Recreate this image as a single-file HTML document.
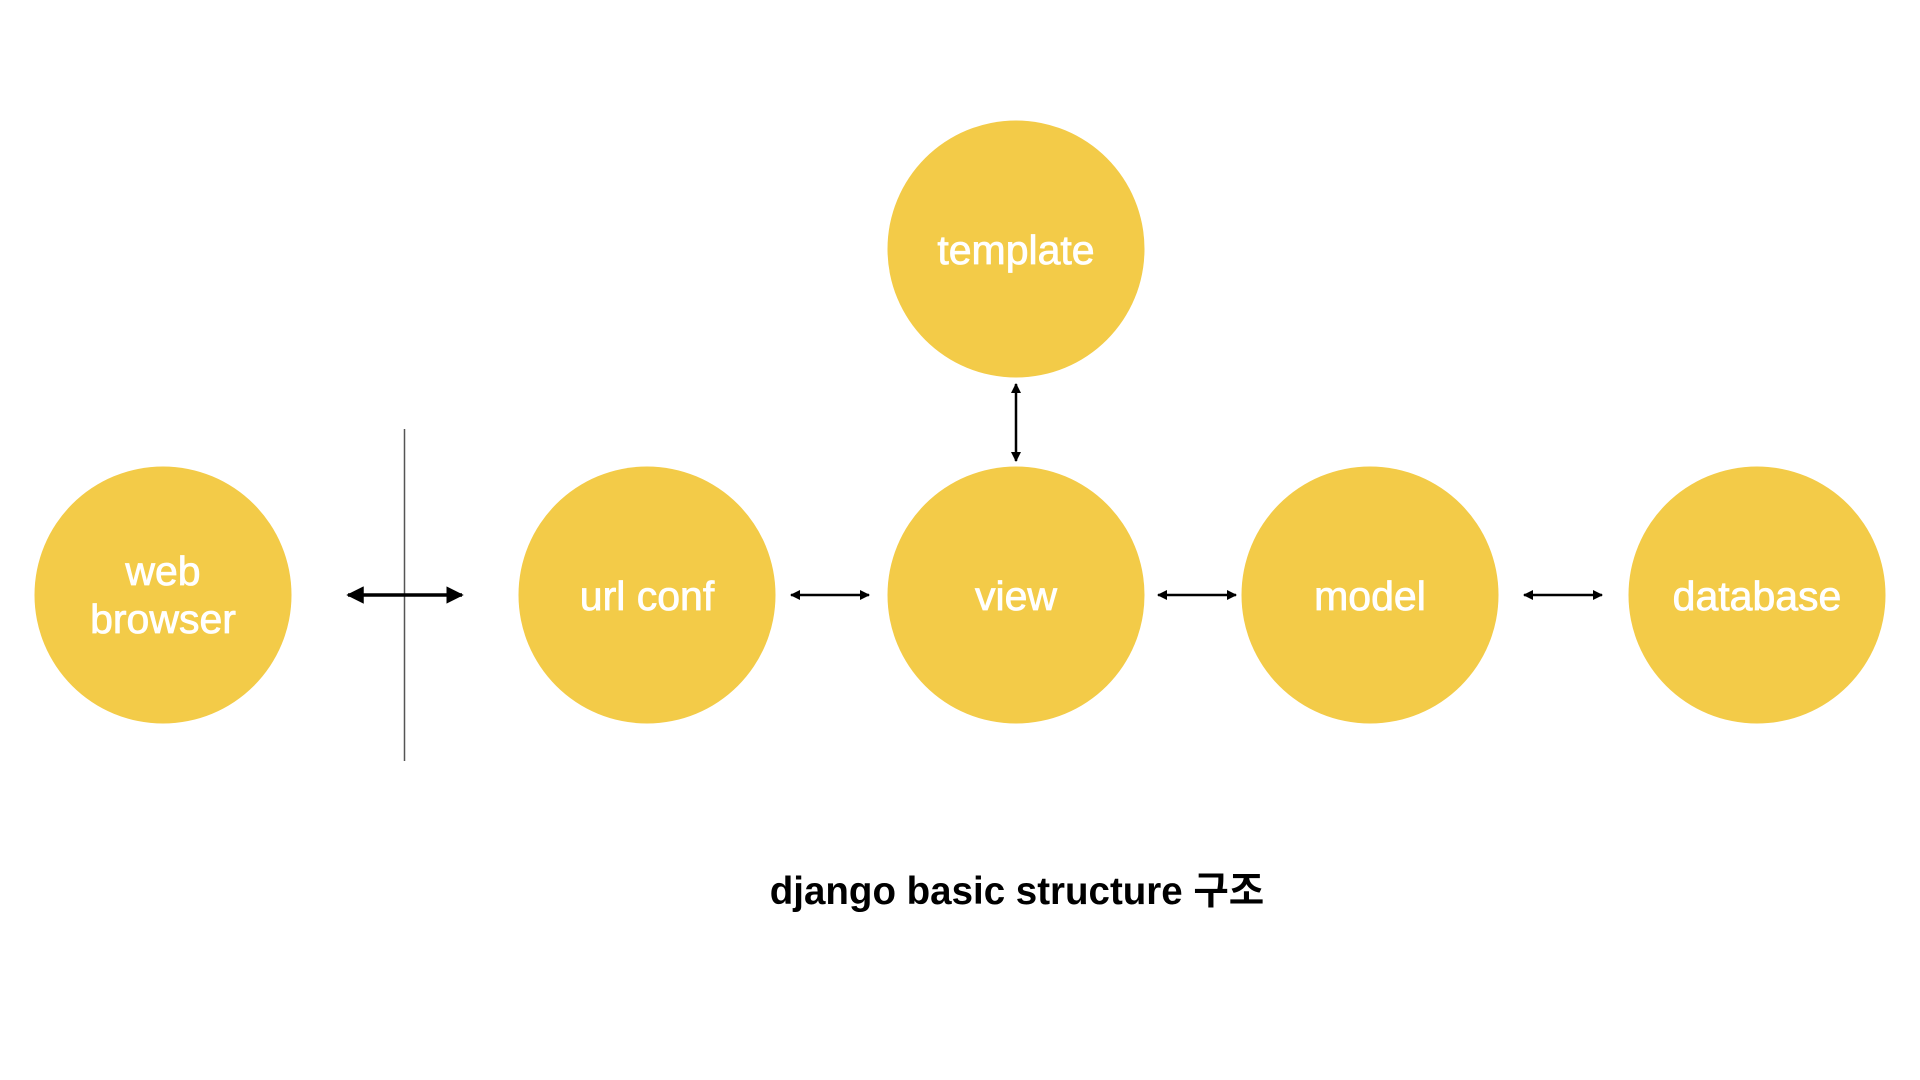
<!DOCTYPE html>
<html><head><meta charset="utf-8"><style>
html,body{margin:0;padding:0;background:#fff;}
svg{display:block;}
</style></head><body>
<svg width="1920" height="1080" viewBox="0 0 1920 1080" xmlns="http://www.w3.org/2000/svg">
<defs>
<marker id="a" viewBox="0 0 10 10" refX="9" refY="5" markerWidth="5" markerHeight="5" orient="auto-start-reverse"><path d="M0,0 L10,5 L0,10 z" fill="#000"/></marker>
<marker id="b" viewBox="0 0 10 10" refX="9" refY="5" markerWidth="4" markerHeight="4" orient="auto-start-reverse"><path d="M0,0 L10,5 L0,10 z" fill="#000"/></marker>
</defs>
<g fill="#F3CB48">
<circle cx="163" cy="595" r="128.5"/>
<circle cx="647" cy="595" r="128.5"/>
<circle cx="1016" cy="595" r="128.5"/>
<circle cx="1016" cy="249" r="128.5"/>
<circle cx="1370" cy="595" r="128.5"/>
<circle cx="1757" cy="595" r="128.5"/>
</g>
<line x1="404.5" y1="429" x2="404.5" y2="761" stroke="#555" stroke-width="1.5"/>
<line x1="348" y1="595" x2="462" y2="595" stroke="#000" stroke-width="3.5" marker-start="url(#a)" marker-end="url(#a)"/>
<g stroke="#000" stroke-width="2.5">
<line x1="791" y1="595" x2="869" y2="595" marker-start="url(#b)" marker-end="url(#b)"/>
<line x1="1158" y1="595" x2="1236" y2="595" marker-start="url(#b)" marker-end="url(#b)"/>
<line x1="1524" y1="595" x2="1602" y2="595" marker-start="url(#b)" marker-end="url(#b)"/>
<line x1="1016" y1="384" x2="1016" y2="461" marker-start="url(#b)" marker-end="url(#b)"/>
</g>
<g fill="#fff" stroke="#fff" stroke-width="0.8" font-family="Liberation Sans, sans-serif" font-size="41" text-anchor="middle">
<text x="163" y="585">web</text>
<text x="163" y="633">browser</text>
<text x="647" y="610">url conf</text>
<text x="1016" y="610">view</text>
<text x="1016" y="264">template</text>
<text x="1370" y="610">model</text>
<text x="1757" y="610">database</text>
</g>
<text x="1017" y="904" text-anchor="middle" font-family="Liberation Sans, 'Noto Sans CJK KR', sans-serif" font-weight="bold" font-size="38.5" fill="#000">django basic structure 구조</text>
</svg>
</body></html>
